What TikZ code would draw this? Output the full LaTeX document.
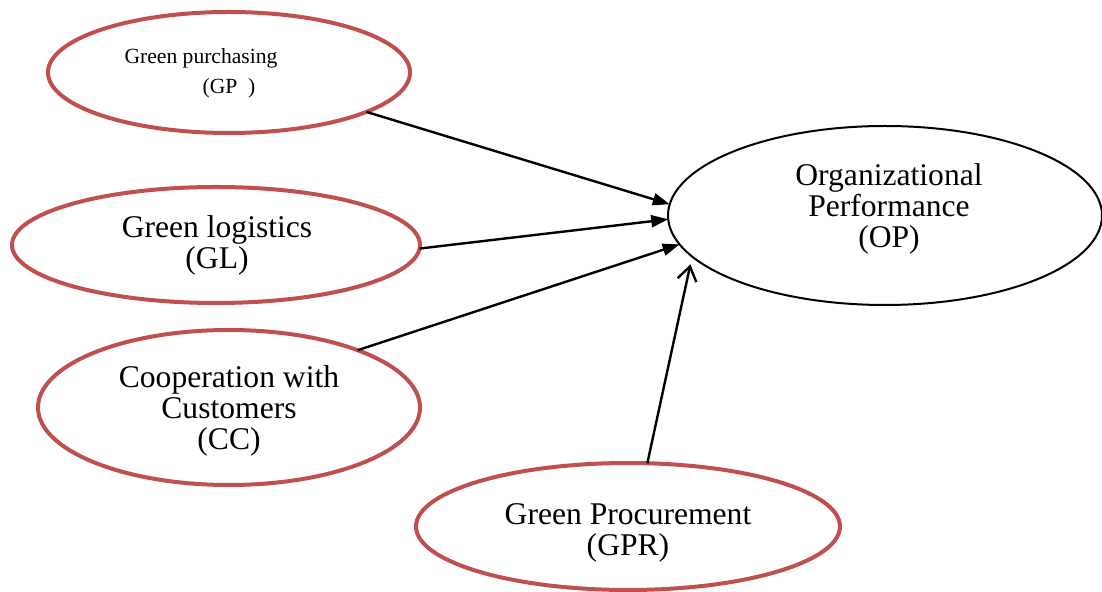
\documentclass[tikz,border=0pt]{standalone}
\usepackage{fontspec}
\setmainfont{Liberation Serif}
\usetikzlibrary{arrows.meta,shapes.geometric}
\definecolor{redline}{RGB}{192,80,77}
\begin{document}
\begin{tikzpicture}[x=0.5pt,y=-0.5pt,
  redell/.style={ellipse,draw=redline,line width=2pt,inner sep=0pt,outer sep=0pt},
  blackell/.style={ellipse,draw=black,line width=1pt,inner sep=0pt,outer sep=0pt},
  txt/.style={align=center,inner sep=0pt,font=\fontsize{15.8}{15.5}\selectfont},
  smalltxt/.style={inner sep=0pt,font=\fontsize{10.8}{12}\selectfont},
  arr/.style={line width=1.2pt,-{Triangle[length=8.5pt,width=6pt]}},
  openarr/.style={line width=1.2pt,-{Straight Barb[length=7pt,width=9.5pt]},shorten >=4pt}]
\useasboundingbox (0,0) rectangle (1102,592);
\node[redell,minimum width=181pt,minimum height=60.5pt] (GP) at (229,72.5) {};
\node[redell,minimum width=204pt,minimum height=58pt] (GL) at (216,245) {};
\node[redell,minimum width=191pt,minimum height=77.5pt] (CC) at (229,407.5) {};
\node[redell,minimum width=212pt,minimum height=63.5pt] (GPR) at (628,526.5) {};
\node[blackell,minimum width=217pt,minimum height=89.5pt] (OP) at (885,215.5) {};
\node[smalltxt] (GPt1) at (201,58) {Green purchasing};
\node[smalltxt] (GPt2) at (229,88) {(GP\ \ )};
\node[txt] (GLt) at (217,245) {Green logistics\\(GL)};
\node[txt] (CCt) at (229,410.5) {Cooperation with\\Customers\\(CC)};
\node[txt] (GPRt) at (628,533) {Green Procurement\\(GPR)};
\node[txt] (OPt) at (889,209) {Organizational\\Performance\\(OP)};
\draw[arr] (GP.-16) -- (OP.177.9);
\draw[arr] (GL.-1.4) -- (OP.181.6);
\draw[arr] (CC.24) -- (OP.188.1);
\draw[openarr] (GPR.73) -- (OP.192.4);
\end{tikzpicture}
\end{document}
